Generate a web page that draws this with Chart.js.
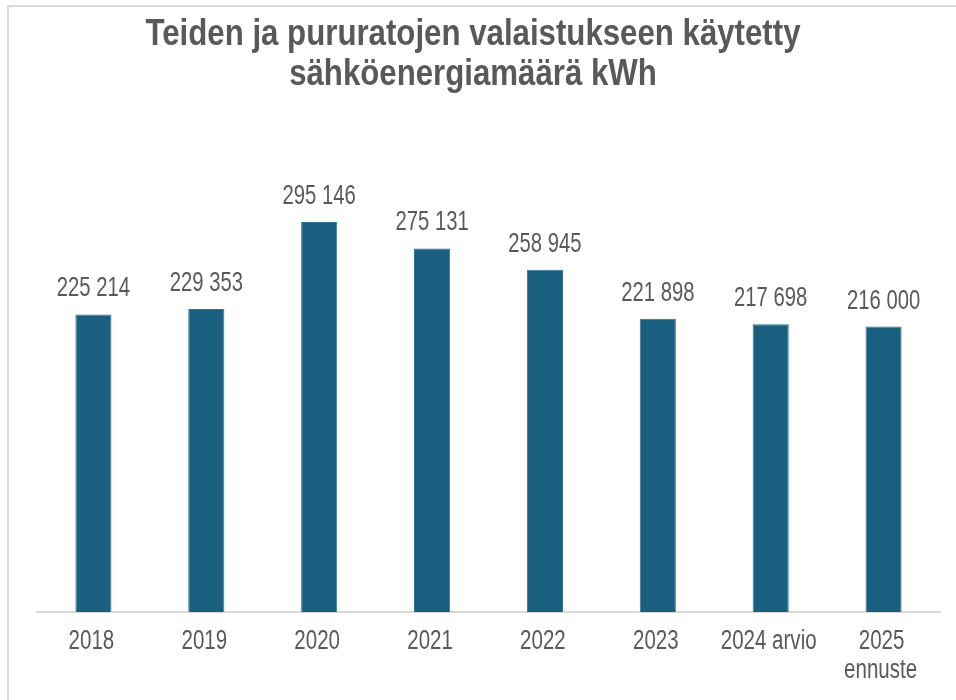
<!DOCTYPE html>
<html lang="fi">
<head>
<meta charset="utf-8">
<title>Teiden ja pururatojen valaistukseen käytetty sähköenergiamäärä kWh</title>
<script src="https://cdn.jsdelivr.net/npm/chart.js@4.4.1/dist/chart.umd.min.js"></script>
<style>
  html, body { margin: 0; padding: 0; background: #fff; }
  #kehys { position: relative; width: 956px; height: 700px; }
</style>
</head>
<body>
<div id="kehys"><canvas id="kaavio"></canvas></div>
<script>
// Data luettu kuvasta
const vuodet = ['2018', '2019', '2020', '2021', '2022', '2023', '2024 arvio', ['2025', 'ennuste']];
const kulutusKwh = [225214, 229353, 295146, 275131, 258945, 221898, 217698, 216000];
const otsikko = ['Teiden ja pururatojen valaistukseen käytetty', 'sähköenergiamäärä kWh'];

const FONTTI = "'Liberation Sans', Arial, sans-serif";
const HARMAA = '#595959';

// Lukujen muotoilu: välilyönti tuhaterottimena
function muotoile(n) {
    return String(n).replace(/\B(?=(\d{3})+(?!\d))/g, ' ');
}

// Kapeampi teksti (alkuperäinen kuva on vaakasuunnassa puristettu)
function kapeaTeksti(ctx, teksti, x, y, sx) {
    ctx.save();
    ctx.translate(x, y);
    ctx.scale(sx, 1);
    ctx.fillText(teksti, 0, 0);
    ctx.restore();
}

// Kehys ja otsikko
const kehysPlugin = {
    id: 'kehysJaOtsikko',
    beforeDraw(chart) {
        const ctx = chart.ctx;
        ctx.save();
        ctx.strokeStyle = '#d9d9d9';
        ctx.lineWidth = 2;
        ctx.strokeRect(8, 6, 970, 720);
        ctx.fillStyle = HARMAA;
        ctx.font = 'bold 36px ' + FONTTI;
        ctx.textAlign = 'center';
        ctx.textBaseline = 'alphabetic';
        const sx = 655 / ctx.measureText(otsikko[0]).width;
        kapeaTeksti(ctx, otsikko[0], 473, 45, sx);
        kapeaTeksti(ctx, otsikko[1], 473, 85, sx);
        ctx.restore();
    }
};

// Arvot pylväiden päälle ja luokkien nimet akselin alle
const tekstiPlugin = {
    id: 'tekstit',
    afterDatasetsDraw(chart) {
        const ctx = chart.ctx;
        const meta = chart.getDatasetMeta(0);
        const x = chart.scales.x;
        ctx.save();
        ctx.fillStyle = HARMAA;
        ctx.font = '27px ' + FONTTI;
        ctx.textAlign = 'center';
        ctx.textBaseline = 'alphabetic';
        meta.data.forEach((pylvas, i) => {
            kapeaTeksti(ctx, muotoile(kulutusKwh[i]), pylvas.x, pylvas.y - 18, 0.75);
        });
        vuodet.forEach((nimi, i) => {
            const rivit = Array.isArray(nimi) ? nimi : [nimi];
            const px = x.getPixelForValue(i);
            rivit.forEach((rivi, j) => {
                kapeaTeksti(ctx, rivi, px - (j > 0 ? 3 : 2), 649 + j * 29, 0.76);
            });
        });
        ctx.restore();
    }
};

const ctx = document.getElementById('kaavio').getContext('2d');
new Chart(ctx, {
    type: 'bar',
    data: {
        labels: vuodet,
        datasets: [{
            label: 'kWh',
            data: kulutusKwh,
            backgroundColor: '#1a5e80',
            borderColor: '#2f7396',
            borderWidth: 1,
            barPercentage: 0.32,
            categoryPercentage: 1
        }]
    },
    options: {
        responsive: true,
        maintainAspectRatio: false,
        animation: false,
        layout: {
            padding: { top: 149.5, left: 37, right: 16, bottom: 80 }
        },
        scales: {
            x: {
                grid: { display: false },
                border: { display: true, color: '#d9d9d9', width: 2 },
                ticks: { display: false }
            },
            y: {
                display: false,
                min: 0,
                max: 350000
            }
        },
        plugins: {
            legend: { display: false },
            title: { display: false },
            tooltip: { enabled: false }
        }
    },
    plugins: [kehysPlugin, tekstiPlugin]
});
</script>
</body>
</html>
